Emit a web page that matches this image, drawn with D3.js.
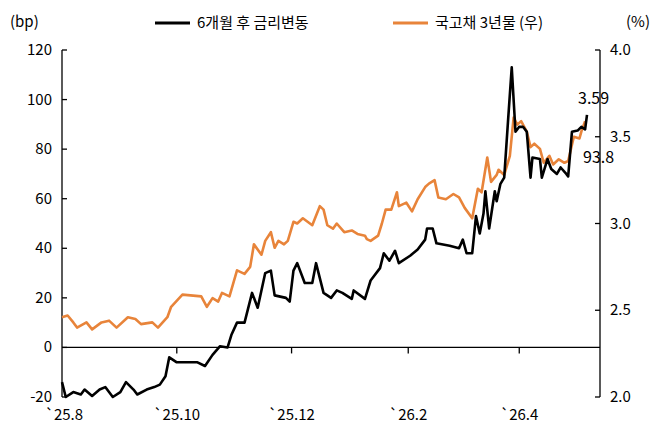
<!DOCTYPE html>
<html><head><meta charset="utf-8">
<script src="https://cdn.jsdelivr.net/npm/d3@7"></script>
<style>body{margin:0;background:#fff}text{font-family:"Noto Sans CJK KR","Noto Sans",sans-serif;}</style>
</head><body><svg id="c" width="668" height="437"></svg>
<script>
// days since 2025-08-01
const blackDays = [0,2,6,10,12,16,20,23,27,31,34,38,40,45,49,52,55,57,61,68,72,76,80,84,88,90,93,97,101,104,108,111,113,119,121,123,125,129,133,135,139,143,146,149,154,155,161,164,169,171,174,177,179,185,189,193,194,197,199,206,211,213,215,218,220,222,224,225,227,230,231,233,235,237,239,241,243,245,247,249,250,254,255,258,260,263,265,268,269,271,274,276,278,279];
const blackVals = [-14,-20,-18,-19,-17,-19.6,-17,-16,-20,-18,-14,-17,-19,-17,-16,-15,-11.6,-4,-6,-6,-6,-7.5,-3,0.5,0,5,10,10,22,16,30,31,21,20,18.5,31,34,26,26,34,22,20,23,22,19.6,23,19.6,27,32,38,35,39,34,37,39.5,43.5,48,48,42,41,40,43.5,38,38,53,46,54,63,48,63,59,66,68.5,91,113,87,89,89,87,68.5,76.6,76,68.5,76,72,70,72.6,70,69,87,87.5,89,88,93.8];
const orangeDays = [0,3,6,8,13,16,21,25,29,35,39,42,48,51,56,58,64,74,77,80,83,85,89,93,97,100,102,106,108,111,113,115,118,120,123,125,128,133,137,139,141,144,146,150,154,157,161,162,164,168,170,172,175,178,179,183,186,189,193,195,198,200,204,208,211,214,218,221,223,226,228,231,232,235,238,240,242,244,247,249,251,254,256,259,261,264,267,269,272,275,276,278];
const orangeVals = [2.46,2.47,2.43,2.40,2.43,2.39,2.43,2.44,2.40,2.46,2.45,2.42,2.43,2.40,2.46,2.52,2.59,2.58,2.52,2.57,2.55,2.60,2.58,2.73,2.71,2.75,2.88,2.82,2.90,2.95,2.86,2.90,2.88,2.90,3.01,3.00,3.03,2.99,3.10,3.08,2.99,2.97,3.00,2.95,2.96,2.94,2.93,2.91,2.90,2.93,3.00,3.08,3.08,3.18,3.10,3.12,3.07,3.14,3.21,3.23,3.25,3.15,3.14,3.17,3.15,3.09,3.03,3.20,3.18,3.38,3.24,3.28,3.31,3.28,3.39,3.61,3.57,3.59,3.53,3.44,3.46,3.43,3.35,3.39,3.34,3.37,3.35,3.36,3.50,3.49,3.53,3.59];
const xTickDays = [0,61,122,184,243];
const xTickLabels = ["`25.8","`25.10","`25.12","`26.2","`26.4"];
const leftTicks = [-20,0,20,40,60,80,100,120];
const rightTicks = [2.0,2.5,3.0,3.5,4.0];
const seriesNames = ["6개월 후 금리변동","국고채 3년물 (우)"];
const colors = ["#000000","#E8843A"];

const svg = d3.select("#c");
const L=62,R=600,T=50,B=397;
const x = d3.scaleLinear().domain([0,279]).range([L,587]);
const yl = d3.scaleLinear().domain([-20,120]).range([B,T]);
const yr = d3.scaleLinear().domain([2,4]).range([B,T]);
const fs=15;

svg.append("line").attr("x1",L).attr("x2",L).attr("y1",T).attr("y2",B).attr("stroke","#000").attr("stroke-width",1.3);
leftTicks.forEach(v=>{
  svg.append("line").attr("x1",L).attr("x2",L+5).attr("y1",yl(v)).attr("y2",yl(v)).attr("stroke","#000").attr("stroke-width",1.3);
  svg.append("text").attr("x",L-10).attr("y",yl(v)+5).attr("text-anchor","end").attr("font-size",fs).text(v);
});
svg.append("line").attr("x1",R).attr("x2",R).attr("y1",T).attr("y2",B).attr("stroke","#000").attr("stroke-width",1.3);
rightTicks.forEach(v=>{
  svg.append("line").attr("x1",R-5).attr("x2",R).attr("y1",yr(v)).attr("y2",yr(v)).attr("stroke","#000").attr("stroke-width",1.3);
  svg.append("text").attr("x",R+10).attr("y",yr(v)+5).attr("font-size",fs).text(v.toFixed(1));
});
svg.append("line").attr("x1",L).attr("x2",R).attr("y1",yl(0)).attr("y2",yl(0)).attr("stroke","#000").attr("stroke-width",1.3);
xTickDays.forEach((d,i)=>{
  if(i>0) svg.append("line").attr("x1",x(d)).attr("x2",x(d)).attr("y1",yl(0)).attr("y2",yl(0)+6).attr("stroke","#000").attr("stroke-width",1.3);
  svg.append("text").attr("x",x(d)+(i===0?2:0)).attr("y",B+23).attr("text-anchor","middle").attr("font-size",fs).text(xTickLabels[i]);
});
svg.append("text").attr("x",10).attr("y",27).attr("font-size",fs).text("(bp)");
svg.append("text").attr("x",626).attr("y",27).attr("font-size",fs).text("(%)");

const lineB = d3.line().x((d,i)=>x(blackDays[i])).y(d=>yl(d));
const lineO = d3.line().x((d,i)=>x(orangeDays[i])).y(d=>yr(d));
svg.append("path").attr("d",lineO(orangeVals)).attr("fill","none").attr("stroke",colors[1]).attr("stroke-width",2.6).attr("stroke-linejoin","round");
svg.append("path").attr("d",lineB(blackVals)).attr("fill","none").attr("stroke",colors[0]).attr("stroke-width",2.6).attr("stroke-linejoin","round");

svg.append("text").attr("x",578).attr("y",104).attr("font-size",16).text(orangeVals[orangeVals.length-1].toFixed(2));
svg.append("text").attr("x",583).attr("y",163).attr("font-size",16).text(blackVals[blackVals.length-1].toFixed(1));

const lg=[{x:155,tx:197},{x:393,tx:435}];
lg.forEach((g,i)=>{
  svg.append("line").attr("x1",g.x).attr("x2",g.x+35).attr("y1",23).attr("y2",23).attr("stroke",colors[i]).attr("stroke-width",3);
  svg.append("text").attr("x",g.tx).attr("y",28).attr("font-size",fs).text(seriesNames[i]);
});
</script></body></html>
